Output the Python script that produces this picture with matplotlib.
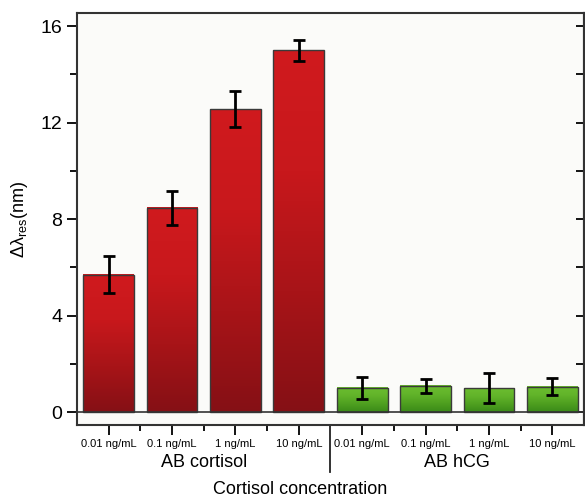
import numpy as np
import matplotlib
matplotlib.use('Agg')
import matplotlib.pyplot as plt
from matplotlib.colors import LinearSegmentedColormap

plt.rcParams['font.family'] = ['Liberation Sans', 'DejaVu Sans']
plt.rcParams['mathtext.fontset'] = 'custom'
plt.rcParams['mathtext.rm'] = 'Liberation Sans'
plt.rcParams['mathtext.it'] = 'Liberation Sans'

conc_labels = ['0.01 ng/mL', '0.1 ng/mL', '1 ng/mL', '10 ng/mL']
groups = ['AB cortisol', 'AB hCG']
cortisol_vals = [5.70, 8.46, 12.56, 14.99]
cortisol_err = [0.75, 0.70, 0.75, 0.45]
hcg_vals = [1.00, 1.08, 0.98, 1.05]
hcg_err = [0.47, 0.30, 0.62, 0.35]

vals = cortisol_vals + hcg_vals
errs = cortisol_err + hcg_err
xlabels = conc_labels + conc_labels
x = np.arange(1, len(vals) + 1)
w = 0.8

red_cmap = LinearSegmentedColormap.from_list('r', ['#851015', '#a81418', '#c8181c', '#d01a1e'])
green_cmap = LinearSegmentedColormap.from_list('g', ['#3a8a18', '#4fa020', '#62b42a', '#6cbd30'])

fig = plt.figure(figsize=(5.85, 5.03), dpi=100)
ax = fig.add_axes([0.1316, 0.155, 0.8667, 0.819])
ax.set_facecolor('#fbfbf9')

grad = np.linspace(0, 1, 256).reshape(-1, 1)
for i, (xi, v) in enumerate(zip(x, vals)):
    cmap = red_cmap if i < 4 else green_cmap
    ax.imshow(grad, extent=[xi - w / 2, xi + w / 2, 0, v], origin='lower',
              aspect='auto', cmap=cmap, zorder=2)
ax.bar(x, vals, width=w, facecolor='none', edgecolor='#3a3a3a', linewidth=1.0, zorder=3)
ax.errorbar(x, vals, yerr=errs, fmt='none', ecolor='black', elinewidth=2,
            capsize=4, capthick=2, zorder=4)
ax.axhline(0, color='#333333', lw=1.2, zorder=3)

ax.set_xlim(0.5, 8.5)
ax.set_ylim(-0.54, 16.54)

ax.set_yticks([0, 4, 8, 12, 16])
ax.set_yticks([2, 6, 10, 14], minor=True)
ax.tick_params(axis='y', which='major', direction='out', length=7, width=1.3, labelsize=14)
ax.tick_params(axis='y', which='minor', direction='out', length=5, width=1.3)

ax.set_xticks(x)
ax.set_xticklabels(xlabels)
ax.set_xticks([1.5, 2.5, 3.5, 5.5, 6.5, 7.5], minor=True)
ax.tick_params(axis='x', which='major', direction='out', length=7, width=1.3, labelsize=8, pad=3)
ax.tick_params(axis='x', which='minor', direction='out', length=4, width=1.3)

# right side inward ticks
sec = ax.secondary_yaxis('right')
sec.set_yticks([0, 2, 4, 6, 8, 10, 12, 14, 16])
sec.tick_params(direction='in', length=6, width=1.3, labelright=False)
sec.spines['right'].set_linewidth(1.5)
sec.spines['right'].set_color('#333333')

for s in ax.spines.values():
    s.set_linewidth(1.5)
    s.set_color('#333333')

ax.set_ylabel(r'$\Delta\lambda_{\mathrm{res}}$(nm)', fontsize=13, labelpad=8)

# group labels and separator
ax.text(2.5, -0.092, groups[0], transform=ax.get_xaxis_transform(), ha='center', va='center', fontsize=13)
ax.text(6.5, -0.092, groups[1], transform=ax.get_xaxis_transform(), ha='center', va='center', fontsize=13)
ax.plot([4.5, 4.5], [0, -0.115], transform=ax.get_xaxis_transform(), color='#222222', lw=1.3, clip_on=False)
fig.text(0.513, 0.027, 'Cortisol concentration', ha='center', va='center', fontsize=13)

fig.savefig('out.png', dpi=100)
